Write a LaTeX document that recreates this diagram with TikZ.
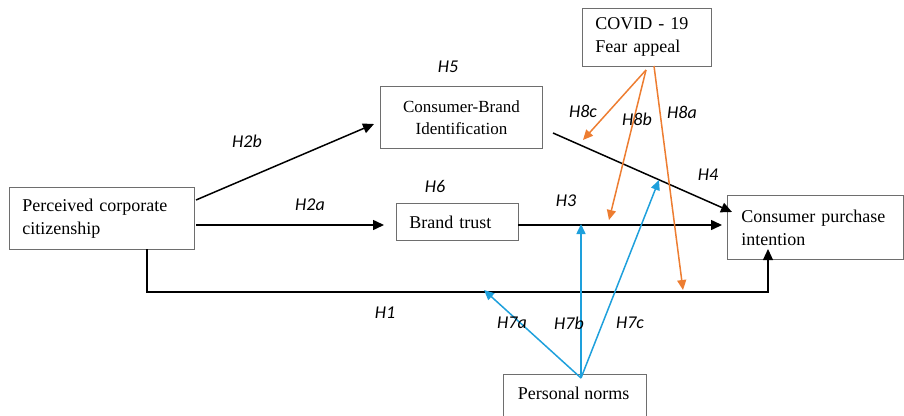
\documentclass[tikz,border=0pt]{standalone}
\usepackage{fontspec}
\setmainfont{Liberation Serif}
\newfontfamily\lblfont{Carlito}
\usetikzlibrary{arrows.meta}
\definecolor{orangeA}{RGB}{237,125,49}
\definecolor{blueA}{RGB}{30,160,220}
\definecolor{boxgray}{RGB}{110,110,110}
\begin{document}
\begin{tikzpicture}[x=1pt,y=-1pt,
  box/.style={draw=boxgray,line width=0.9pt,inner xsep=13pt,inner ysep=0pt,anchor=north west,align=left,font=\fontsize{18}{23}\selectfont},
  lbl/.style={font=\lblfont\itshape\fontsize{18}{21}\selectfont,inner sep=0pt},
  blk/.style={draw=black,line width=1.5pt,-{Triangle[length=11pt,width=10pt]}},
  org/.style={draw=orangeA,line width=1.5pt,-{Triangle[length=10pt,width=9pt]}},
  blu/.style={draw=blueA,line width=1.5pt,-{Triangle[length=10pt,width=9pt]}}]
\useasboundingbox (0,0) rectangle (904,415);
% boxes
\node[box,text width=103pt,minimum height=58pt] (covid) at (582,8) {COVID - 19\\Fear appeal};
\node[box,text width=159pt,minimum height=62pt] (pcc) at (9,187) {Perceived corporate\\citizenship};
\node[box,inner xsep=0pt,text width=162pt,minimum height=62pt,align=center,font=\fontsize{17}{22}\selectfont] (cbi) at (380,86) {Consumer-Brand\\Identification};
\node[box,text width=96pt,minimum height=37pt] (bt) at (396,203) {Brand trust};
\node[box,inner xsep=14pt,text width=148pt,minimum height=64pt] (cpi) at (727,195) {Consumer purchase\\intention};
\draw[draw=boxgray,line width=0.9pt] (503,420) -- (503,374) -- (646,374) -- (646,420);
\node[font=\fontsize{18}{23}\selectfont,inner sep=0pt] (pn) at (573.5,393) {Personal norms};
% coordinates
\coordinate (pcc1) at (196,200);
\coordinate (cbiL) at (374,124);
\coordinate (pcc2) at (196,225);
\coordinate (btL) at (384,225);
\coordinate (btR) at (518,225);
\coordinate (cpiL) at (722,225);
\coordinate (cbiR) at (553,133);
\coordinate (cpiTL) at (732,212);
\coordinate (pccB) at (147,249);
\coordinate (cpiB) at (768,249);
\coordinate (covB) at (646,70);
\coordinate (covB2) at (654,66);
\coordinate (t8c) at (583,140);
\coordinate (t8b) at (609,220);
\coordinate (t8a) at (683,290);
\coordinate (pnT) at (581,378);
\coordinate (t7a) at (484,290);
\coordinate (t7b) at (581,224);
\coordinate (t7c) at (659,180);
% black arrows
\draw[blk] (pcc1) -- (cbiL);
\draw[blk] (pcc2) -- (btL);
\draw[blk] (btR) -- (cpiL);
\draw[blk] (cbiR) -- (cpiTL);
\draw[blk,line width=1.1pt] (pccB) -- (147,292) -- (768,292) -- (cpiB);
% orange arrows
\draw[org] (covB) -- (t8c);
\draw[org] (covB) -- (t8b);
\draw[org] (covB2) -- (t8a);
% blue arrows
\draw[blu] (pnT) -- (t7a);
\draw[blu] (pnT) -- (t7b);
\draw[blu] (pnT) -- (t7c);
% labels
\node[lbl] (l5) at (448,67) {H5};
\node[lbl] (l2b) at (247,141) {H2b};
\node[lbl] (l6) at (435,186) {H6};
\node[lbl] (l2a) at (310,205) {H2a};
\node[lbl] (l3) at (566,201) {H3};
\node[lbl] (l4) at (708,175) {H4};
\node[lbl] (l8c) at (583,111) {H8c};
\node[lbl] (l8b) at (637,119) {H8b};
\node[lbl] (l8a) at (682,112) {H8a};
\node[lbl] (l1) at (385,313) {H1};
\node[lbl] (l7a) at (512,323) {H7a};
\node[lbl] (l7b) at (569,323) {H7b};
\node[lbl] (l7c) at (630,323) {H7c};
\end{tikzpicture}
\end{document}
